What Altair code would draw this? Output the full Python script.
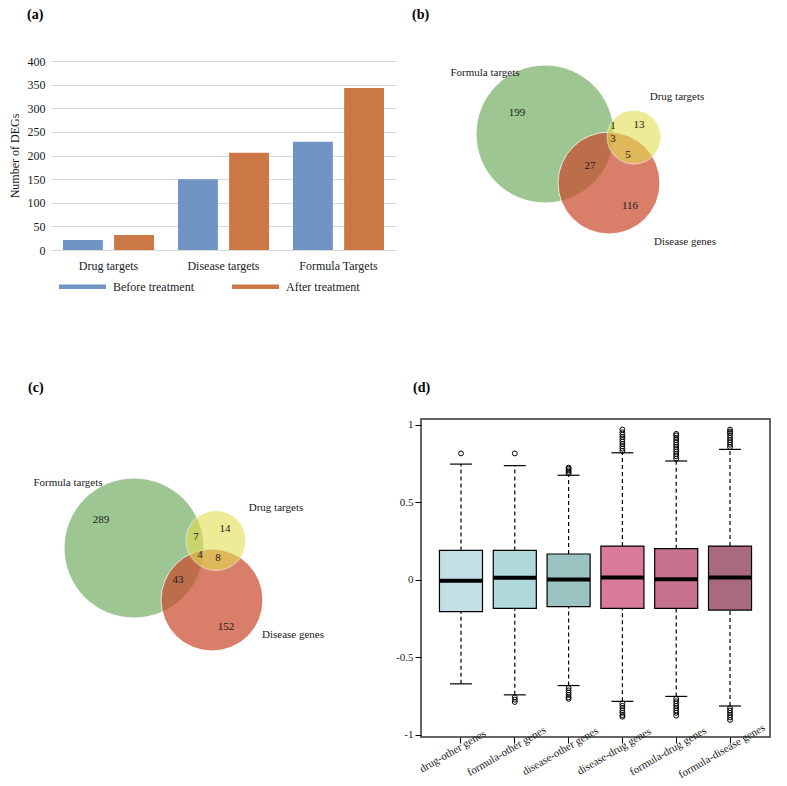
import altair as alt
import pandas as pd

FONT = "Liberation Serif"
TXT = "#1a1a1a"

# ---------------- (a) bar chart ----------------
bar_categories = ["Drug targets", "Disease targets", "Formula Targets"]
treatments = ["Before treatment", "After treatment"]
before_values = [21, 150, 229]
after_values = [32, 206, 343]
y_ticks_a = [0, 50, 100, 150, 200, 250, 300, 350, 400]
bar_colors = ["#6f94c5", "#cc7845"]

# ---------------- Venn diagrams (b), (c) ----------------
venn_sets = ["Formula targets", "Disease genes", "Drug targets"]
venn_colors = ["#9dc693", "#c94a2a", "#e3de53"]
venn_alpha = [1.0, 0.7, 0.6]

b_circle_x = [134, 198, 223]
b_circle_y = [73, 122, 76]
b_circle_r = [69, 51, 27]
b_counts = ["199", "1", "13", "3", "5", "27", "116"]
b_count_x = [106, 202, 228, 202, 217, 179, 219]
b_count_y = [52, 65, 64, 78, 94, 105, 145]
b_name_x = [74, 274, 266]
b_name_y = [12, 181, 36]

c_circle_x = [83, 161, 165]
c_circle_y = [129, 181, 121.5]
c_circle_r = [70, 51, 30]
c_counts = ["289", "14", "7", "4", "8", "43", "152"]
c_count_x = [50, 174, 145, 149, 167, 127, 175]
c_count_y = [101, 110, 118, 136, 139, 161, 208]
c_name_x = [17, 242, 225]
c_name_y = [64, 216, 89]

# ---------------- (d) boxplot ----------------
pairs = ["drug-other genes", "formula-other genes", "disease-other genes",
         "disease-drug genes", "formula-drug genes", "formula-disease genes"]
d_q1 = [-0.207, -0.186, -0.175, -0.186, -0.186, -0.197]
d_median = [-0.008, 0.011, 0.0, 0.013, 0.002, 0.013]
d_q3 = [0.188, 0.188, 0.165, 0.216, 0.199, 0.216]
d_whisker_lo = [-0.673, -0.744, -0.684, -0.786, -0.754, -0.816]
d_whisker_hi = [0.745, 0.735, 0.673, 0.818, 0.765, 0.84]
d_outliers_hi = [
    [0.814],
    [0.814],
    [0.685, 0.695, 0.705, 0.715, 0.722],
    [0.83, 0.845, 0.86, 0.875, 0.89, 0.905, 0.92, 0.935, 0.95, 0.968],
    [0.78, 0.795, 0.81, 0.825, 0.84, 0.855, 0.87, 0.885, 0.90, 0.915, 0.93, 0.94],
    [0.855, 0.87, 0.885, 0.90, 0.915, 0.93, 0.945, 0.955, 0.968],
]
d_outliers_lo = [
    [],
    [-0.76, -0.775, -0.79],
    [-0.70, -0.715, -0.73, -0.745, -0.76, -0.77],
    [-0.80, -0.815, -0.83, -0.845, -0.86, -0.875, -0.885],
    [-0.77, -0.785, -0.80, -0.815, -0.83, -0.845, -0.86, -0.878],
    [-0.83, -0.845, -0.86, -0.875, -0.89, -0.906],
]
d_colors = ["#c2e0e5", "#b0d9db", "#9bc3c2", "#d97a9c", "#c77390", "#a86981"]
d_y_ticks = [-1, -0.5, 0, 0.5, 1]


def panel_title(text, dx, offset):
    return alt.TitleParams(text, anchor="start", frame="group", dx=dx, offset=offset,
                           fontSize=14, fontWeight="bold", font=FONT, color="black")


# ---------------- build (a) ----------------
bar_df = pd.DataFrame({
    "category": bar_categories * 2,
    "treatment": [treatments[0]] * 3 + [treatments[1]] * 3,
    "value": before_values + after_values,
})
legend_a = alt.Legend(
    title=None, orient="none", legendX=22, legendY=216, direction="horizontal",
    symbolType="M-2.5,-0.25H2.5V0.25H-2.5Z", symbolSize=353, symbolStrokeWidth=0,
    labelOffset=21, columnPadding=38, labelFontSize=12, labelFont=FONT,
    labelColor=TXT, padding=0,
)
chart_a = alt.Chart(bar_df).mark_bar().encode(
    x=alt.X("category:N", sort=bar_categories,
            scale=alt.Scale(paddingInner=0, paddingOuter=0),
            axis=alt.Axis(title=None, labelAngle=0, ticks=False, domain=False,
                          labelPadding=10, labelFontSize=12, labelFont=FONT,
                          labelColor=TXT)),
    xOffset=alt.XOffset("treatment:N", sort=treatments,
                        scale=alt.Scale(paddingInner=0.22, paddingOuter=0.235)),
    y=alt.Y("value:Q", scale=alt.Scale(domain=[0, 400], nice=False),
            axis=alt.Axis(values=y_ticks_a, title="Number of DEGs", titleFont=FONT,
                          titleFontSize=12, titleFontWeight="normal", titleColor=TXT,
                          titlePadding=6, labelPadding=6, labelFontSize=12,
                          labelFont=FONT, labelColor=TXT, grid=True,
                          gridColor="#d9d9d9", domain=False, ticks=False)),
    color=alt.Color("treatment:N", sort=treatments,
                    scale=alt.Scale(domain=treatments, range=bar_colors),
                    legend=legend_a),
).properties(width=345, height=189, title=panel_title("(a)", -24, 33))


# ---------------- build Venn ----------------
def venn(cx, cy, r, counts, count_x, count_y, name_x, name_y, width, height, title):
    px_per_unit = 1.0  # domain [0, width] spans width pixels
    circles = pd.DataFrame({"set": venn_sets, "x": cx, "y": cy, "r": r,
                            "order": [0, 1, 2], "alpha": venn_alpha})
    circles["size"] = (2 * circles["r"] * px_per_unit) ** 2
    xs = alt.Scale(domain=[0, width], nice=False, zero=False)
    ys = alt.Scale(domain=[0, height], nice=False, zero=False, reverse=True)
    circ = alt.Chart(circles).mark_circle(stroke="white", strokeWidth=1).encode(
        x=alt.X("x:Q", scale=xs, axis=None),
        y=alt.Y("y:Q", scale=ys, axis=None),
        size=alt.Size("size:Q", scale=None),
        color=alt.Color("set:N", scale=alt.Scale(domain=venn_sets, range=venn_colors),
                        legend=None),
        opacity=alt.Opacity("alpha:Q", scale=None),
        order=alt.Order("order:Q"),
    )
    cnt = pd.DataFrame({"label": counts, "x": count_x, "y": count_y})
    cnt_text = alt.Chart(cnt).mark_text(font=FONT, fontSize=11, color=TXT).encode(
        x=alt.X("x:Q", scale=xs, axis=None),
        y=alt.Y("y:Q", scale=ys, axis=None),
        text="label:N",
    )
    names = pd.DataFrame({"label": venn_sets, "x": name_x, "y": name_y})
    name_text = alt.Chart(names).mark_text(font=FONT, fontSize=11, color=TXT).encode(
        x=alt.X("x:Q", scale=xs, axis=None),
        y=alt.Y("y:Q", scale=ys, axis=None),
        text="label:N",
    )
    return alt.layer(circ, cnt_text, name_text).properties(
        width=width, height=height, title=title)


chart_b = venn(b_circle_x, b_circle_y, b_circle_r, b_counts, b_count_x, b_count_y,
               b_name_x, b_name_y, 360, 189, panel_title("(b)", 1, 39))
chart_c = venn(c_circle_x, c_circle_y, c_circle_r, c_counts, c_count_x, c_count_y,
               c_name_x, c_name_y, 338, 240, panel_title("(c)", -23, 24))

# ---------------- build (d) ----------------
d_box = pd.DataFrame({"pair": pairs, "q1": d_q1, "median": d_median, "q3": d_q3,
                      "lo": d_whisker_lo, "hi": d_whisker_hi})
out_rows = []
for p, hi_vals, lo_vals in zip(pairs, d_outliers_hi, d_outliers_lo):
    for v in hi_vals + lo_vals:
        out_rows.append({"pair": p, "value": v})
d_out = pd.DataFrame(out_rows)

y_d_scale = alt.Scale(domain=[-1.016, 1.036], nice=False, zero=False)
x_d_scale = alt.Scale(paddingInner=0.2, paddingOuter=0.343)
x_axis_d = alt.Axis(title=None, labelAngle=-30, labelAlign="center",
                    labelBaseline="middle", labelPadding=8, labelOffset=-8,
                    tickSize=6, tickColor="black", domain=False,
                    labelFontSize=11, labelFont=FONT, labelColor=TXT)
y_axis_d = alt.Axis(values=d_y_ticks, labelExpr="'' + datum.value", title=None,
                    grid=False, domain=False, ticks=True, tickSize=6,
                    tickColor="black", labelPadding=2, labelFontSize=11,
                    labelFont=FONT, labelColor=TXT)


def xd():
    return alt.X("pair:N", sort=pairs, scale=x_d_scale, axis=x_axis_d)


def yd(field):
    return alt.Y(field, scale=y_d_scale, axis=y_axis_d)


boxes = alt.Chart(d_box).mark_bar(stroke="black", strokeWidth=1.2, opacity=1).encode(
    x=xd(), y=yd("q1:Q"), y2="q3:Q",
    color=alt.Color("pair:N", scale=alt.Scale(domain=pairs, range=d_colors), legend=None),
)
medians = alt.Chart(d_box).mark_tick(color="black", thickness=4, size=43, opacity=1).encode(
    x=xd(), y=yd("median:Q"))
whisk_hi = alt.Chart(d_box).mark_rule(color="black", strokeWidth=1.2, strokeDash=[4, 3]).encode(
    x=xd(), y=yd("q3:Q"), y2="hi:Q")
whisk_lo = alt.Chart(d_box).mark_rule(color="black", strokeWidth=1.2, strokeDash=[4, 3]).encode(
    x=xd(), y=yd("lo:Q"), y2="q1:Q")
cap_hi = alt.Chart(d_box).mark_tick(color="black", thickness=1.2, size=22, opacity=1).encode(
    x=xd(), y=yd("hi:Q"))
cap_lo = alt.Chart(d_box).mark_tick(color="black", thickness=1.2, size=22, opacity=1).encode(
    x=xd(), y=yd("lo:Q"))
outliers = alt.Chart(d_out).mark_point(shape="circle", filled=False, color="black",
                                       size=24, strokeWidth=1, opacity=1).encode(
    x=xd(), y=yd("value:Q"))

chart_d = alt.layer(boxes, whisk_hi, whisk_lo, cap_hi, cap_lo, medians, outliers).properties(
    width=349, height=318, title=panel_title("(d)", -8, 24),
    view=alt.ViewBackground(stroke="#333333", strokeWidth=1.5),
)

indep = dict(color="independent", opacity="independent", size="independent")
row1 = alt.hconcat(chart_a, chart_b, spacing=15).resolve_scale(**indep)
row2 = alt.hconcat(chart_c, chart_d, spacing=5).resolve_scale(**indep)
chart = alt.vconcat(row1, row2, spacing=86).resolve_scale(**indep).properties(
    padding=0).configure(font=FONT).configure_view(strokeWidth=0)

chart.save("out.html", embed_options={"renderer": "svg", "actions": False})
